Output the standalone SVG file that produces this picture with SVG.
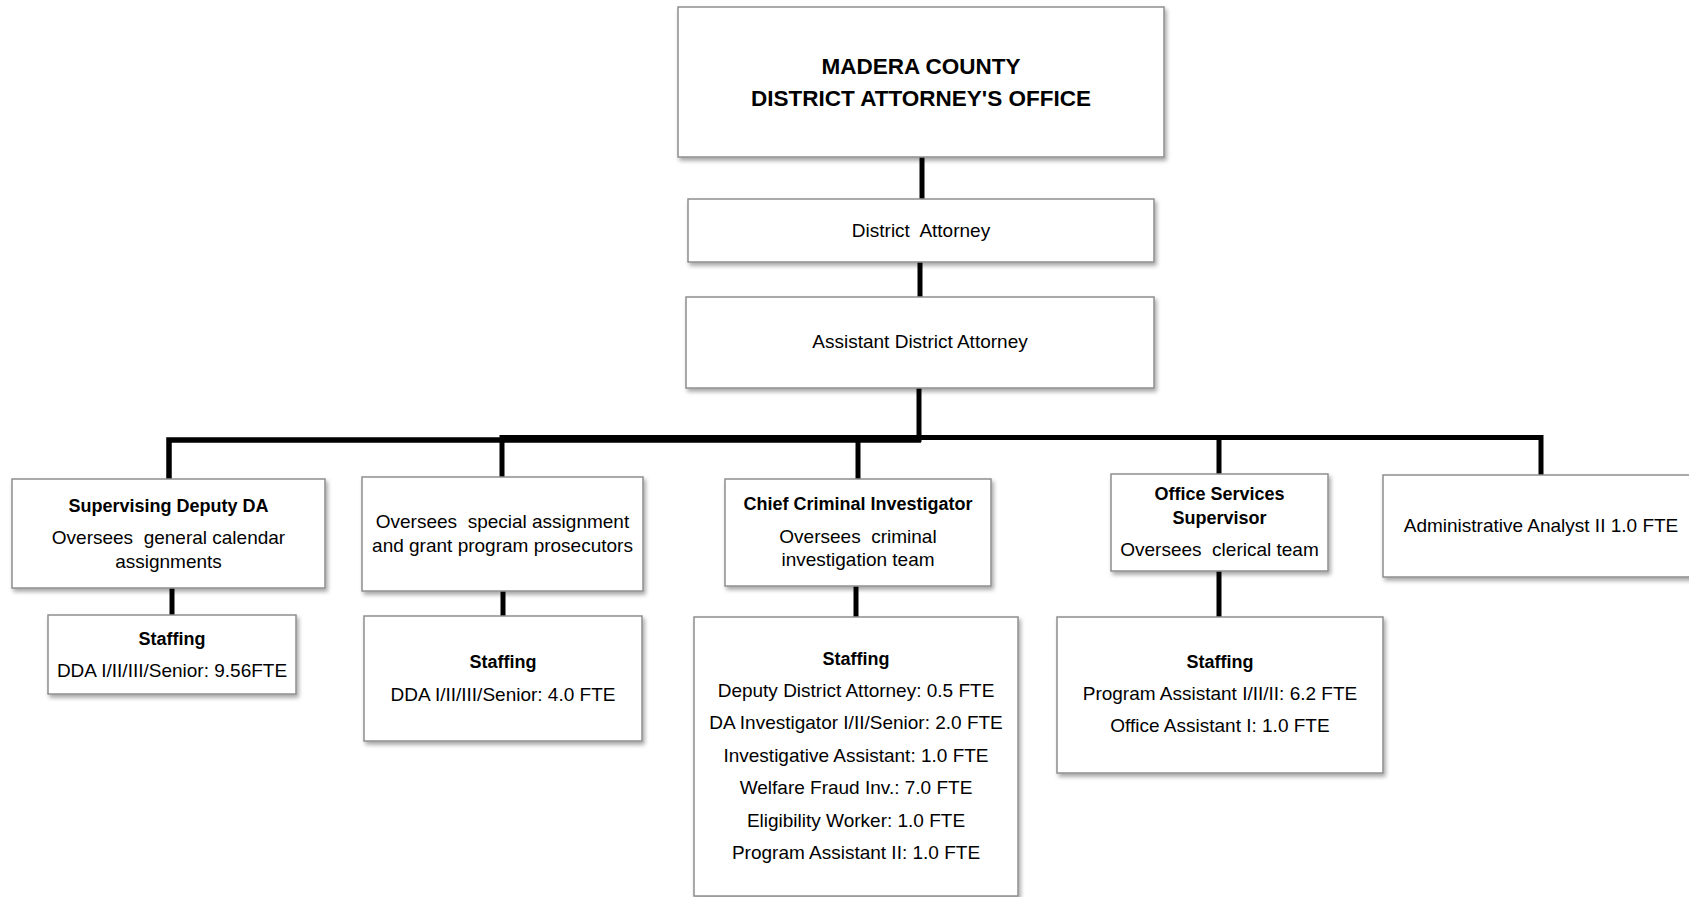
<svg xmlns="http://www.w3.org/2000/svg" width="1689" height="897" viewBox="0 0 1689 897">
<defs>
<filter id="sh" x="-10%" y="-10%" width="130%" height="140%">
<feDropShadow dx="2" dy="3" stdDeviation="2" flood-color="#000" flood-opacity="0.35"/>
</filter>
<style>
.box{fill:#fff;stroke:#8e8e8e;stroke-width:1.5;filter:url(#sh)}
.t{font-family:"Liberation Sans",Arial,sans-serif;font-size:19px;fill:#000;text-anchor:middle}
.b{font-weight:bold;font-size:18px}
.title{font-weight:bold;font-size:22.5px}
.con{fill:none;stroke:#000;stroke-width:5;stroke-linejoin:miter;stroke-linecap:butt}
</style>
</defs>
<rect width="1689" height="897" fill="#fff"/>
<g id="connectors">
<path class="con" d="M922 157V199"/>
<path class="con" d="M920 262V297"/>
<path class="con" d="M919 388V442"/>
<path class="con" style="stroke-width:5.5" d="M169 479V440H921"/>
<path class="con" d="M502 477V437.5H1541V475"/>
<path class="con" d="M858 440V479"/>
<path class="con" d="M1219 437V474"/>
<path class="con" d="M172 588V615"/>
<path class="con" d="M503 591V616"/>
<path class="con" d="M856 586V617"/>
<path class="con" d="M1219 571V617"/>
</g>
<g id="title">
<rect class="box" x="678" y="7" width="486" height="150"/>
<text class="t title" x="921" y="74">MADERA COUNTY</text>
<text class="t title" x="921" y="106">DISTRICT ATTORNEY'S OFFICE</text>
</g>
<g id="da">
<rect class="box" x="688" y="199" width="466" height="63"/>
<text class="t" x="921" y="237" xml:space="preserve">District  Attorney</text>
</g>
<g id="ada">
<rect class="box" x="686" y="297" width="468" height="91"/>
<text class="t" x="920" y="348">Assistant District Attorney</text>
</g>
<g id="sdda">
<rect class="box" x="12" y="479" width="313" height="109"/>
<text class="t b" x="168.5" y="512">Supervising Deputy DA</text>
<text class="t" x="168.5" y="544" xml:space="preserve">Oversees  general calendar</text>
<text class="t" x="168.5" y="568">assignments</text>
</g>
<g id="special">
<rect class="box" x="362" y="477" width="281" height="114"/>
<text class="t" x="502.5" y="528" xml:space="preserve">Oversees  special assignment</text>
<text class="t" x="502.5" y="552">and grant program prosecutors</text>
</g>
<g id="chief">
<rect class="box" x="725" y="479" width="266" height="107"/>
<text class="t b" x="858" y="510">Chief Criminal Investigator</text>
<text class="t" x="858" y="543" xml:space="preserve">Oversees  criminal</text>
<text class="t" x="858" y="566">investigation team</text>
</g>
<g id="oss">
<rect class="box" x="1111" y="474" width="217" height="97"/>
<text class="t b" x="1219.5" y="500">Office Services</text>
<text class="t b" x="1219.5" y="524">Supervisor</text>
<text class="t" x="1219.5" y="556" xml:space="preserve">Oversees  clerical team</text>
</g>
<g id="analyst">
<rect class="box" x="1383" y="475" width="320" height="102"/>
<text class="t" x="1541" y="532">Administrative Analyst II 1.0 FTE</text>
</g>
<g id="staff1">
<rect class="box" x="48" y="615" width="248" height="79"/>
<text class="t b" x="172" y="645">Staffing</text>
<text class="t" x="172" y="677">DDA I/II/III/Senior: 9.56FTE</text>
</g>
<g id="staff2">
<rect class="box" x="364" y="616" width="278" height="125"/>
<text class="t b" x="503" y="668">Staffing</text>
<text class="t" x="503" y="701">DDA I/II/III/Senior: 4.0 FTE</text>
</g>
<g id="staff3">
<rect class="box" x="694" y="617" width="324" height="279"/>
<text class="t b" x="856" y="665">Staffing</text>
<text class="t" x="856" y="697">Deputy District Attorney: 0.5 FTE</text>
<text class="t" x="856" y="729">DA Investigator I/II/Senior: 2.0 FTE</text>
<text class="t" x="856" y="762">Investigative Assistant: 1.0 FTE</text>
<text class="t" x="856" y="794">Welfare Fraud Inv.: 7.0 FTE</text>
<text class="t" x="856" y="827">Eligibility Worker: 1.0 FTE</text>
<text class="t" x="856" y="859">Program Assistant II: 1.0 FTE</text>
</g>
<g id="staff4">
<rect class="box" x="1057" y="617" width="326" height="156"/>
<text class="t b" x="1220" y="668">Staffing</text>
<text class="t" x="1220" y="700">Program Assistant I/II/II: 6.2 FTE</text>
<text class="t" x="1220" y="732">Office Assistant I: 1.0 FTE</text>
</g>
</svg>
